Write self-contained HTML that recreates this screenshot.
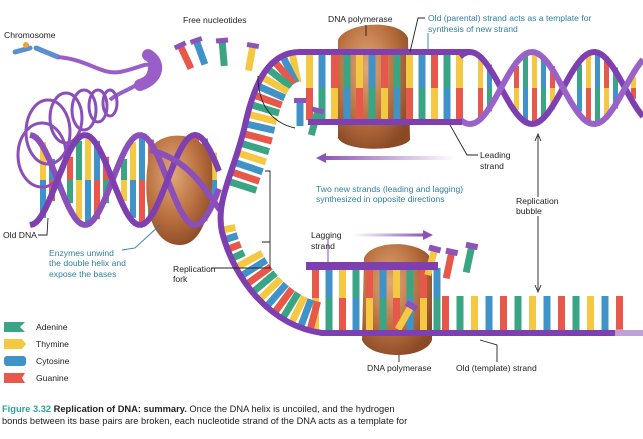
<!DOCTYPE html>
<html><head><meta charset="utf-8"><style>
body{margin:0;background:#fff;width:643px;height:439px;overflow:hidden;font-family:"Liberation Sans",sans-serif}
svg{position:absolute;left:0;top:0}
text{font-family:"Liberation Sans",sans-serif;font-size:8.6px;fill:#222}
.t{fill:#2f7f9a}
</style></head><body>
<svg id="s" width="643" height="439" viewBox="0 0 643 439" xmlns="http://www.w3.org/2000/svg">
<defs>
<radialGradient id="br" cx="40%" cy="35%" r="70%"><stop offset="0" stop-color="#e0a878"/><stop offset="0.6" stop-color="#b86e3e"/><stop offset="1" stop-color="#8a4a26"/></radialGradient>
<linearGradient id="fade" gradientUnits="userSpaceOnUse" x1="353" y1="0" x2="425" y2="0"><stop offset="0" stop-color="#8d54b8" stop-opacity="0"/><stop offset="1" stop-color="#8d54b8"/></linearGradient>
<linearGradient id="fade2" gradientUnits="userSpaceOnUse" x1="322" y1="0" x2="455" y2="0"><stop offset="0" stop-color="#8d54b8"/><stop offset="1" stop-color="#8d54b8" stop-opacity="0"/></linearGradient>
</defs>
<g id="back"></g>
<path d="M338,40 C345,22 400,18 408,38 L410,140 C400,152 345,152 338,138 Z" fill="url(#br)"/>
<path d="M150,150 C160,128 210,130 212,165 C214,200 205,245 180,245 C150,245 140,200 150,150 Z" fill="url(#br)"/>
<path d="M364,258 C372,238 428,240 432,262 L432,340 C425,360 370,360 362,340 Z" fill="url(#br)"/>
<g id="bars"></g>
<path d="M15,52 L30,48 M36,48 L58,57" stroke="#5a8fd0" stroke-width="5" stroke-linecap="round"/>
<circle cx="26" cy="45" r="3" fill="#f0a030"/>
<path d="M58,57 C90,60 100,75 120,72 C140,68 150,60 150,68 C150,85 120,90 110,100" stroke="#9a5ec8" stroke-width="4" fill="none"/>
<path d="M148,55 C160,62 160,78 140,85" stroke="#9a5ec8" stroke-width="12" fill="none" stroke-linecap="round"/>
<g fill="none" stroke="#8a4fb8" stroke-width="3">
<ellipse cx="110" cy="103" rx="7" ry="13"/><ellipse cx="98" cy="106" rx="9" ry="16"/><ellipse cx="84" cy="110" rx="12" ry="20"/><ellipse cx="66" cy="118" rx="16" ry="25"/><ellipse cx="48" cy="132" rx="22" ry="32"/><ellipse cx="42" cy="155" rx="24" ry="32"/>
</g>
<g id="front"></g>
<path d="M470,52 L300,52 C270,52 255,80 245,125 C235,170 215,200 222,232 C235,282 272,326 322,333 L643,333" stroke="#7e3fb0" stroke-width="6" fill="none"/>
<path d="M615,333 L643,333" stroke="#fff" stroke-width="7" opacity=".5"/>
<path d="M308,122 L462,122" stroke="#7e3fb0" stroke-width="6"/>
<path d="M306,266 L438,266" stroke="#7e3fb0" stroke-width="8"/>
<path d="M322,158 L455,158" stroke="url(#fade2)" stroke-width="4"/><path d="M316,158 L326,153 L326,163Z" fill="#8d54b8"/>
<path d="M353,235 L425,235" stroke="url(#fade)" stroke-width="3"/><path d="M433,235 L423,230 L423,240Z" fill="#8d54b8"/>
<g stroke="#222" stroke-width="0.9" fill="none">
<path d="M366,25 L366,36"/><path d="M425,18 L418,18 L410,52"/><path d="M428,33 L428,50" stroke="#2f7f9a"/>
<path d="M258,76 C258,100 268,122 295,128"/><path d="M450,125 L467,155 L478,155"/>
<path d="M538,136 L538,197 M538,216 L538,290"/><path d="M535,141 L538,134 L541,141 M535,285 L538,292 L541,285" stroke="#222"/>
<path d="M265,171 L270,171 L270,268 L262,268 M270,242 L262,242 M211,268 L262,268"/>
<path d="M38,235 L47,235 L48,218"/><path d="M122,250 L135,248 L160,225" stroke="#2f7f9a"/>
<path d="M399,355 L399,362"/><path d="M480,340 L497,345 L497,362"/>
<path d="M328,240 L328,264" stroke="#7e3fb0"/>
</g>
<text x="4" y="38">Chromosome</text>
<text x="183" y="23">Free nucleotides</text>
<text x="328" y="22">DNA polymerase</text>
<text class="t" x="428" y="21">Old (parental) strand acts as a template for</text>
<text class="t" x="428" y="32">synthesis of new strand</text>
<text x="480" y="158">Leading</text><text x="480" y="169">strand</text>
<text class="t" x="316" y="192">Two new strands (leading and lagging)</text>
<text class="t" x="316" y="202">synthesized in opposite directions</text>
<text x="516" y="204">Replication</text><text x="516" y="214">bubble</text>
<text x="3" y="238">Old DNA</text>
<text class="t" x="49" y="256">Enzymes unwind</text>
<text class="t" x="49" y="266">the double helix and</text>
<text class="t" x="49" y="277">expose the bases</text>
<text x="311" y="238">Lagging</text><text x="311" y="249">strand</text>
<text x="173" y="272">Replication</text><text x="173" y="282">fork</text>
<text x="367" y="371">DNA polymerase</text>
<text x="456" y="371">Old (template) strand</text>
<g>
<path d="M4,322 L25,322 L20,327 L25,332 L4,332Z" fill="#3aa584"/><text x="36" y="330">Adenine</text>
<path d="M4,339 L22,339 L26,344 L22,349 L4,349Z" fill="#f4c842"/><text x="36" y="347">Thymine</text>
<rect x="4" y="356" width="22" height="10" rx="3" fill="#3f93c9"/><text x="36" y="364">Cytosine</text>
<path d="M4,373 L25,373 L22,378 L25,383 L4,383Z" fill="#e8584a"/><text x="36" y="381">Guanine</text>
</g>
<text x="2" y="412" style="font-size:9.3px"><tspan fill="#2aa0a0" font-weight="bold">Figure 3.32 </tspan><tspan font-weight="bold">Replication of DNA: summary.</tspan> Once the DNA helix is uncoiled, and the hydrogen</text>
<text x="2" y="424" style="font-size:9.3px">bonds between its base pairs are broken, each nucleotide strand of the DNA acts as a template for</text>
</svg>
<script>
var C=["#3aa584","#f4c842","#3f93c9","#e8584a"],NS="http://www.w3.org/2000/svg";
var bars=document.getElementById("bars"),back=document.getElementById("back"),front=document.getElementById("front");
function r(g,x,y,w,h,c,tr){var e=document.createElementNS(NS,"rect");e.setAttribute("x",x);e.setAttribute("y",y);e.setAttribute("width",w);e.setAttribute("height",h);e.setAttribute("fill",c);if(tr)e.setAttribute("transform",tr);g.appendChild(e);}
function p(g,d,c,w){var e=document.createElementNS(NS,"path");e.setAttribute("d",d);e.setAttribute("stroke",c);e.setAttribute("stroke-width",w);e.setAttribute("fill","none");g.appendChild(e);}
var k=0;
for(var x=306;x<465;x+=12.5){k++;r(bars,x,55,7,33,C[k%4]);r(bars,x,88,7,32,C[(k+2)%4]);}
k=0;for(var x=312;x<440;x+=13.5){k++;r(bars,x,268,7,30,C[(k*3)%4]);r(bars,x,298,7,33,C[(k*3+2)%4]);}
for(var x=442;x<630;x+=14.5){k++;r(bars,x,296,7,36,C[k%4],null);}
var path=document.createElementNS(NS,"path");path.setAttribute("d","M300,52 C270,52 255,80 245,125 C235,170 215,200 222,232 C235,282 272,326 322,333");back.appendChild(path);path.setAttribute("fill","none");
var L=path.getTotalLength();k=0;
for(var s=8;s<L-8;s+=10){k++;var a=path.getPointAtLength(s),b=path.getPointAtLength(s+1);var ang=Math.atan2(b.y-a.y,b.x-a.x)*180/Math.PI;
var len=(s>165&&s<200)?0:(s>200&&s<245?14:30);if(!len)continue;
r(bars,0,-3.5,len,7,C[k%4],"translate("+a.x+","+a.y+") rotate("+(ang-90)+")");}
var fn=[[180,45,-25,3],[196,40,-20,2],[222,40,-5,0],[253,45,10,1],[300,100,0,2],[318,110,15,0]];
fn.forEach(function(f){r(bars,-3.5,0,7,26,C[f[3]],"translate("+f[0]+","+f[1]+") rotate("+f[2]+")");r(bars,-6,-2,12,5,"#8d54b8","translate("+f[0]+","+f[1]+") rotate("+f[2]+")");});
[[435,248,15,1],[452,251,12,3],[472,245,12,0],[412,305,30,1]].forEach(function(f){r(bars,-3.5,0,7,28,C[f[3]],"translate("+f[0]+","+f[1]+") rotate("+f[2]+")");r(bars,-6,-2,12,6,"#8d54b8","translate("+f[0]+","+f[1]+") rotate("+f[2]+")");});
var d1="",d2="";for(var x=460;x<=643;x+=3){var y1=88-36*Math.cos((x-470)*Math.PI/62),y2=88+36*Math.cos((x-470)*Math.PI/62);d1+=(x==460?"M":"L")+x+","+y1.toFixed(1);d2+=(x==460?"M":"L")+x+","+y2.toFixed(1);}
k=0;for(var x=478;x<640;x+=9){var h=36*Math.abs(Math.cos((x-470)*Math.PI/62));if(h<10)continue;k++;r(bars,x,88-h,5,h,C[k%4]);r(bars,x,88,5,h,C[(k+2)%4]);}
p(front,d1,"#7e3fb0",6);p(front,d2,"#9a62c8",6);
var e1="",e2="";for(var x=30;x<=220;x+=3){var t=(x-30)*Math.PI/55;var y1=180-45*Math.cos(t),y2=180+45*Math.cos(t);e1+=(x==30?"M":"L")+x+","+y1.toFixed(1);e2+=(x==30?"M":"L")+x+","+y2.toFixed(1);}
k=0;for(var x=40;x<215;x+=9){var h=45*Math.abs(Math.cos((x-30)*Math.PI/55));if(h<10)continue;k++;r(back,x,180-h,6,h,C[k%4]);r(back,x,180,6,h,C[(k+1)%4]);}
p(front,e1,"#8a4fb8",6);p(front,e2,"#7e3fb0",6);
p(front,"M150,150 C190,160 205,190 220,210","#8a4fb8",6);
</script>
</body></html>
